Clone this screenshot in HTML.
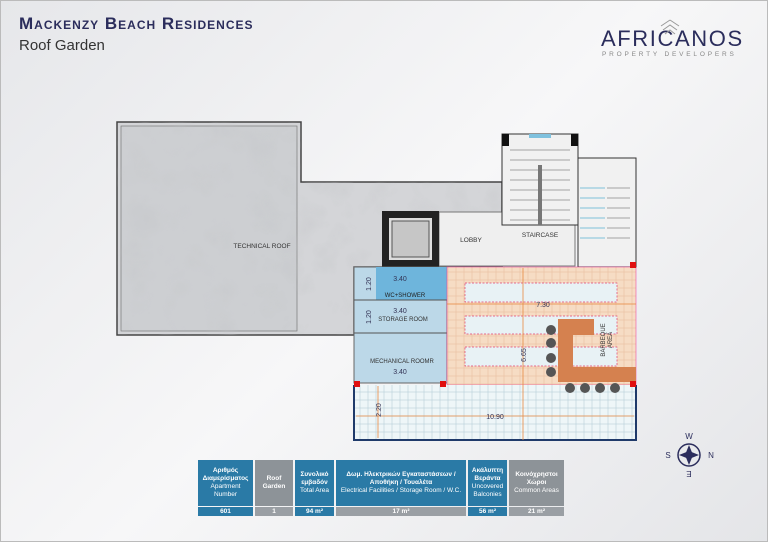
<!DOCTYPE html>
<html><head><meta charset="utf-8"><style>
body{margin:0;width:768px;height:542px;overflow:hidden;font-family:"Liberation Sans",sans-serif;background:linear-gradient(135deg,#e6e7ea 0%,#f7f7f8 50%,#e4e5e8 100%);position:relative}
.t{position:absolute}
table{position:absolute;left:196px;top:459px;border-collapse:separate;border-spacing:2px 1px;font-size:6.5px;text-align:center;color:#fff}
td{padding:0 1px;line-height:8px}
tr.hd td{height:46px}
.h{background:#2a7aa6}.v{background:#2a7aa6;font-weight:bold;height:9px}.g{background:#9a9fa4;font-weight:bold}.gh{background:#8d9398}
</style></head><body>
<div class="t" style="left:0;top:0;width:768px;height:542px;border:1px solid #bbb;box-sizing:border-box"></div>
<div class="t" style="left:19px;top:14px;font-size:17px;font-weight:bold;color:#2b2d5c;letter-spacing:1px;font-variant:small-caps">Mackenzy Beach Residences</div>
<div class="t" style="left:19px;top:37px;font-size:15px;color:#333">Roof Garden</div>
<div class="t" style="left:601px;top:26px;font-size:22px;color:#2b2d5c;letter-spacing:1.6px">AFRICANOS</div>
<div class="t" style="left:602px;top:51px;font-size:6.5px;color:#888;letter-spacing:2.8px">PROPERTY DEVELOPERS</div>
<svg class="t" style="left:0;top:0" width="768" height="542">
<defs><pattern id="gr" width="8" height="8" patternUnits="userSpaceOnUse"><rect width="8" height="8" fill="none" stroke="#b8cfd8" stroke-width="0.6"/></pattern>
<pattern id="go" width="8" height="8" patternUnits="userSpaceOnUse"><rect width="8" height="8" fill="#f6dcc4" stroke="#e9bfa0" stroke-width="0.6"/></pattern>
<filter id="cl"><feTurbulence baseFrequency="0.025" numOctaves="3" seed="3"/><feColorMatrix values="0 0 0 0 0.55 0 0 0 0 0.56 0 0 0 0 0.58 0 0 0 1.1 -0.3"/></filter></defs>
<path d="M670,20 l9,6 M670,20 l-9,6 M663,30 l7,-5 l7,5 M665,34 l5,-4 l5,4" stroke="#999" fill="none"/>
<polygon points="117,122 301,122 301,182 502,182 502,267 354,267 354,335 117,335" fill="#d4d5d8" stroke="#444" stroke-width="1.5"/>
<rect x="121" y="126" width="176" height="205" fill="#cdcfd2" stroke="#777" stroke-width="0.7"/>
<rect x="118" y="123" width="383" height="211" filter="url(#cl)" opacity="0.6" clip-path="url(#rc)"/>
<clipPath id="rc"><polygon points="117,122 301,122 301,182 502,182 502,267 354,267 354,335 117,335"/></clipPath>
<text x="262" y="248" font-size="6.5" fill="#333" text-anchor="middle">TECHNICAL ROOF</text>
<rect x="439" y="212" width="136" height="54" fill="#efefef" stroke="#777"/>
<text x="471" y="242" font-size="6.5" fill="#333" text-anchor="middle">LOBBY</text>
<rect x="382" y="211" width="57" height="56" fill="#222"/><rect x="389" y="218" width="43" height="42" fill="#ddd"/><rect x="392" y="221" width="37" height="36" fill="#c6c6c6" stroke="#555"/>
<rect x="502" y="134" width="76" height="91" fill="#f1f1f1" stroke="#333"/>
<rect x="502" y="134" width="7" height="12" fill="#111"/><rect x="571" y="134" width="7" height="12" fill="#111"/><rect x="529" y="134" width="22" height="4" fill="#7fc1de"/>
<g stroke="#555" stroke-width="0.6"><line x1="510" y1="150" x2="570" y2="150"/><line x1="510" y1="160" x2="570" y2="160"/><line x1="510" y1="170" x2="570" y2="170"/><line x1="510" y1="180" x2="570" y2="180"/><line x1="510" y1="190" x2="570" y2="190"/><line x1="510" y1="200" x2="570" y2="200"/><line x1="510" y1="210" x2="570" y2="210"/><line x1="510" y1="220" x2="570" y2="220"/></g>
<rect x="538" y="165" width="4" height="60" fill="#777"/>
<text x="540" y="237" font-size="6.5" fill="#333" text-anchor="middle">STAIRCASE</text>
<rect x="578" y="158" width="58" height="109" fill="#f1f1f1" stroke="#333"/>
<g stroke="#5ab0d0" stroke-width="0.7"><line x1="580" y1="188" x2="605" y2="188"/><line x1="580" y1="198" x2="605" y2="198"/><line x1="580" y1="208" x2="605" y2="208"/><line x1="580" y1="218" x2="605" y2="218"/><line x1="580" y1="228" x2="605" y2="228"/><line x1="580" y1="238" x2="605" y2="238"/></g>
<g stroke="#555" stroke-width="0.6"><line x1="607" y1="188" x2="630" y2="188"/><line x1="607" y1="198" x2="630" y2="198"/><line x1="607" y1="208" x2="630" y2="208"/><line x1="607" y1="218" x2="630" y2="218"/><line x1="607" y1="228" x2="630" y2="228"/><line x1="607" y1="238" x2="630" y2="238"/></g>
<rect x="354" y="267" width="93" height="116" fill="#bcd8e8" stroke="#666"/>
<rect x="376" y="267" width="71" height="33" fill="#6eb5dc"/>
<line x1="354" y1="300" x2="447" y2="300" stroke="#555"/><line x1="354" y1="333" x2="447" y2="333" stroke="#555"/>
<text x="405" y="297" font-size="6" fill="#222" text-anchor="middle">WC+SHOWER</text>
<text x="403" y="321" font-size="6" fill="#333" text-anchor="middle">STORAGE ROOM</text>
<text x="402" y="363" font-size="6" fill="#333" text-anchor="middle">MECHANICAL ROOMR</text>
<g font-size="7" fill="#335" text-anchor="middle"><text x="400" y="281">3.40</text><text x="400" y="313">3.40</text><text x="400" y="374">3.40</text></g>
<rect x="447" y="267" width="189" height="118" fill="url(#go)" stroke="#e39" stroke-width="0.5"/>
<g fill="#e8f2f5" stroke="#e04070" stroke-dasharray="2,1.5" stroke-width="0.7"><rect x="465" y="283" width="152" height="19"/><rect x="465" y="316" width="152" height="18"/><rect x="465" y="347" width="152" height="19"/></g>
<path d="M558,319 h36 v16 h-21 v32 h63 v15 h-78z" fill="#d5814f"/>
<text x="605" y="340" font-size="6" fill="#333" transform="rotate(-90 605 340)" text-anchor="middle">BARBEQUE</text>
<text x="612" y="340" font-size="6" fill="#333" transform="rotate(-90 612 340)" text-anchor="middle">AREA</text>
<rect x="354" y="385" width="282" height="55" fill="#eef6f8"/><rect x="354" y="385" width="282" height="55" fill="url(#gr)"/>
<path d="M354,385 v55 h282 v-55" fill="none" stroke="#1f3a6a" stroke-width="2"/>
<g fill="#555"><circle cx="551" cy="330" r="5"/><circle cx="551" cy="343" r="5"/><circle cx="551" cy="358" r="5"/><circle cx="551" cy="372" r="5"/><circle cx="570" cy="388" r="5"/><circle cx="585" cy="388" r="5"/><circle cx="600" cy="388" r="5"/><circle cx="615" cy="388" r="5"/></g>
<g fill="#e01010"><rect x="354" y="381" width="6" height="6"/><rect x="440" y="381" width="6" height="6"/><rect x="630" y="381" width="6" height="6"/><rect x="630" y="262" width="6" height="6"/></g>
<g stroke="#e88a40" stroke-width="0.8"><line x1="447" y1="304" x2="636" y2="304"/><line x1="523" y1="268" x2="523" y2="440"/><line x1="356" y1="416" x2="634" y2="416"/><line x1="378" y1="386" x2="378" y2="438"/></g>
<g font-size="7" fill="#335" text-anchor="middle"><text x="543" y="307">7.30</text><text x="495" y="419">10.90</text><text x="526" y="355" transform="rotate(-90 526 355)">6.65</text><text x="381" y="410" transform="rotate(-90 381 410)">2.20</text><text x="371" y="284" transform="rotate(-90 371 284)">1.20</text><text x="371" y="317" transform="rotate(-90 371 317)">1.20</text></g>
<circle cx="689" cy="455" r="11" fill="none" stroke="#2b2d5c" stroke-width="1.5"/>
<polygon points="689,445 693,455 689,465 685,455" fill="#2b2d5c"/><polygon points="679,455 689,451 699,455 689,459" fill="#2b2d5c"/>
<g font-size="8" fill="#2b2d5c" text-anchor="middle"><text x="689" y="439">W</text><text x="689" y="477" transform="rotate(180 689 474)">E</text><text x="668" y="458">S</text><text x="711" y="458">N</text></g>
</svg>
<table>
<tr class="hd"><td class="h" style="width:53px"><b>Αριθμός Διαμερίσματος</b><br>Apartment Number</td><td class="gh" style="width:36px"><b>Roof Garden</b></td><td class="h" style="width:37px"><b>Συνολικό εμβαδόν</b><br>Total Area</td><td class="h" style="width:128px"><b>Δωμ. Ηλεκτρικών Εγκαταστάσεων / Αποθήκη / Τουαλέτα</b><br>Electrical Facilities / Storage Room / W.C.</td><td class="h" style="width:37px"><b>Ακάλυπτη Βεράντα</b><br>Uncovered Balconies</td><td class="gh" style="width:53px"><b>Κοινόχρηστοι Χώροι</b><br>Common Areas</td></tr>
<tr><td class="v">601</td><td class="g">1</td><td class="v">94 m²</td><td class="g">17 m²</td><td class="v">56 m²</td><td class="g">21 m²</td></tr>
</table>
</body></html>
